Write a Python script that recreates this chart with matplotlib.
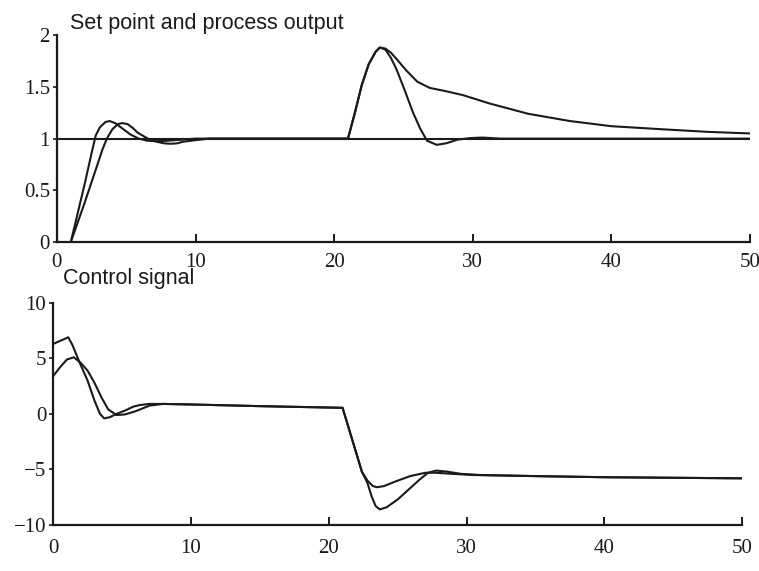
import matplotlib.pyplot as plt

# process output, fast controller
t_y1 = [0, 1.0, 1.5, 2.0, 2.5, 2.8, 3.1, 3.5, 3.8, 4.2, 4.7, 5.3, 5.9, 6.5, 7.2, 8, 9, 10, 12, 15, 18,
        21.0, 21.5, 22.0, 22.5, 23.0, 23.3, 23.7, 24.1, 24.5, 25.0, 25.7, 26.2, 26.7, 27.4, 28.1, 28.9,
        29.8, 30.7, 32, 35, 40, 45, 50]
y1 = [0, 0, 0.28, 0.56, 0.86, 1.03, 1.11, 1.16, 1.17, 1.15, 1.10, 1.04, 1.0, 0.98, 0.975, 0.98, 0.99,
      1.0, 1.0, 1.0, 1.0,
      1.0, 1.25, 1.52, 1.72, 1.84, 1.88, 1.86, 1.78, 1.67, 1.5, 1.25, 1.1, 0.98, 0.94, 0.955, 0.99,
      1.005, 1.01, 1.0, 1.0, 1.0, 1.0, 1.0]

# process output, slow controller
t_y2 = [0, 1.0, 1.5, 2.0, 2.5, 3.0, 3.3, 3.6, 4.0, 4.4, 4.7, 5.1, 5.5, 5.8, 6.3, 6.7, 7.2, 7.7, 8.2,
        8.7, 9.1, 10, 11, 13, 16,
        21.0, 21.5, 22.0, 22.5, 23.0, 23.3, 23.7, 24.1, 24.5, 25.2, 26.0, 26.9, 28, 29.3, 31.2, 34, 37,
        40, 43.7, 47, 50]
y2 = [0, 0, 0.19, 0.38, 0.58, 0.78, 0.9, 1.0, 1.09, 1.14, 1.15, 1.14, 1.10, 1.06, 1.02, 0.99, 0.97,
      0.955, 0.95, 0.955, 0.97, 0.985, 1.0, 1.0, 1.0,
      1.0, 1.25, 1.52, 1.72, 1.84, 1.88, 1.87, 1.83, 1.77, 1.66, 1.55, 1.49, 1.46, 1.42, 1.34, 1.24,
      1.17, 1.12, 1.09, 1.065, 1.05]

t_sp = [0, 50]
sp = [1, 1]

# control signals
t_u1 = [0, 1.1, 1.4, 1.7, 2.0, 2.5, 3.0, 3.4, 3.7, 4.1, 4.6, 5.3, 5.8, 6.3, 7.0, 8, 10, 15, 21.0,
        22.4, 22.8, 23.2, 23.5, 24.0, 24.8, 25.9, 27.0, 27.8, 29.0, 30.5, 35, 40, 45, 50]
u1 = [6.3, 6.9, 6.2, 5.3, 4.4, 3.0, 1.2, 0.0, -0.4, -0.3, 0.0, 0.35, 0.65, 0.8, 0.9, 0.9, 0.85, 0.7,
      0.55,
      -5.2, -6.0, -6.5, -6.6, -6.5, -6.1, -5.6, -5.3, -5.3, -5.4, -5.5, -5.6, -5.7, -5.75, -5.8]

t_u2 = [0, 0.5, 1.0, 1.5, 2.0, 2.5, 3.0, 3.5, 4.0, 4.6, 5.2, 6.0, 7.0, 8, 10, 15, 21.0,
        22.4, 22.8, 23.1, 23.4, 23.7, 24.2, 25.0, 25.8, 26.6, 27.2, 27.8, 28.6, 29.6, 31, 35, 40, 45, 50]
u2 = [3.4, 4.2, 4.9, 5.1, 4.6, 3.9, 2.8, 1.5, 0.4, -0.1, -0.05, 0.25, 0.75, 0.9, 0.85, 0.7, 0.55,
      -5.2, -6.2, -7.4, -8.3, -8.6, -8.4, -7.7, -6.8, -5.9, -5.3, -5.1, -5.2, -5.4, -5.5, -5.6,
      -5.7, -5.75, -5.8]

xticks = [0, 10, 20, 30, 40, 50]
yticks_top = [0, 0.5, 1, 1.5, 2]
ylabels_top = ['0', '0.5', '1', '1.5', '2']
yticks_bot = [-10, -5, 0, 5, 10]

fig = plt.figure(figsize=(7.59, 5.71), dpi=100)
ax1 = fig.add_axes([0.075, 0.576, 0.913, 0.3625])
ax2 = fig.add_axes([0.070, 0.0806, 0.908, 0.389])

lc = '#1a1a1a'
lw = 1.5

ax1.plot(t_sp, sp, color=lc, lw=lw)
ax1.plot(t_y1, y1, color=lc, lw=lw)
ax1.plot(t_y2, y2, color=lc, lw=lw)
ax1.set_xlim(0, 50)
ax1.set_ylim(0, 2)
ax1.set_yticks(yticks_top)
ax1.set_yticklabels(ylabels_top)

ax2.plot(t_u1, u1, color=lc, lw=lw)
ax2.plot(t_u2, u2, color=lc, lw=lw)
ax2.set_xlim(0, 50)
ax2.set_ylim(-10, 10)
ax2.set_yticks(yticks_bot)

for ax, xpad in ((ax1, 8), (ax2, 10)):
    ax.set_xticks(xticks)
    for s in ('top', 'right'):
        ax.spines[s].set_visible(False)
    for s in ('left', 'bottom'):
        ax.spines[s].set_linewidth(1.6)
        ax.spines[s].set_color(lc)
    ax.tick_params(axis='x', direction='in', length=6, width=1.4, pad=xpad, colors=lc)
    ax.tick_params(axis='y', direction='out', length=3, width=1.2, pad=2, colors=lc)
    for lab in ax.get_xticklabels() + ax.get_yticklabels():
        lab.set_fontfamily('Liberation Serif')
        lab.set_fontsize(15)
    ax.patch.set_visible(False)

fig.text(0.092, 0.958, 'Set point and process output', family='Liberation Sans', fontsize=15.5,
         color=lc, va='center')
fig.text(0.083, 0.512, 'Control signal', family='Liberation Sans', fontsize=15.5,
         color=lc, va='center')

fig.savefig('out.png', dpi=100)
